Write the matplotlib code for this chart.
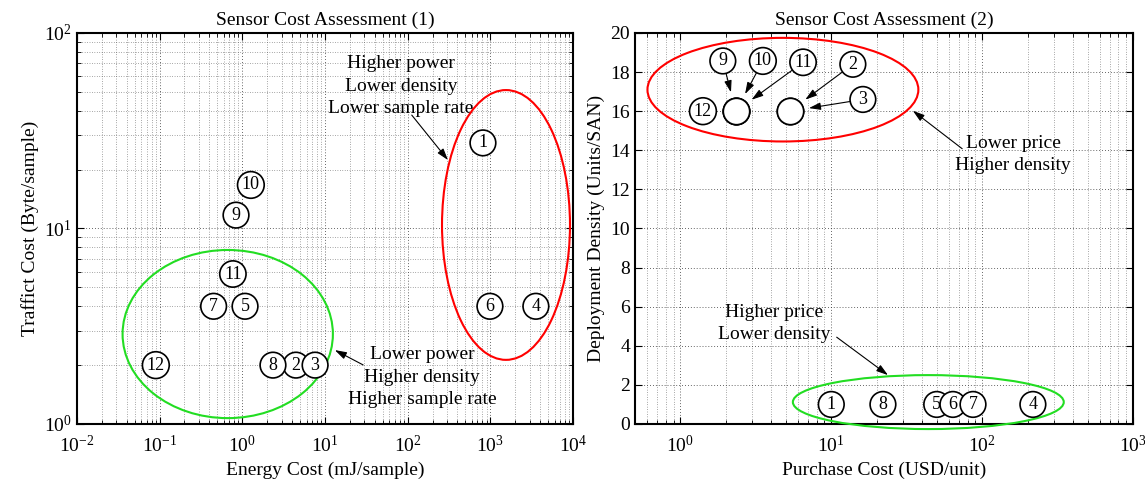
import matplotlib
matplotlib.use("Agg")
import matplotlib.pyplot as plt
from matplotlib.patches import Ellipse

plt.rcParams["font.family"] = ["Liberation Serif", "DejaVu Serif"]
plt.rcParams["mathtext.fontset"] = "stix"

# sensor ids
ids = [1, 2, 3, 4, 5, 6, 7, 8, 9, 10, 11, 12]

# panel 1: energy cost (mJ/sample) vs traffic cost (Byte/sample)
energy = [815, 4.46, 7.6, 3560, 1.08, 990, 0.45, 2.35, 0.84, 1.27, 0.77, 0.09]
traffic = [27.4, 2.0, 2.0, 4.0, 4.0, 4.0, 4.0, 2.0, 11.7, 16.7, 5.85, 2.0]

# panel 2: purchase cost (USD/unit) vs deployment density (units/SAN)
purchase = [10, 5.3, 5.3, 217, 50, 64, 87, 22, 2.33, 2.33, 2.33, 1.41]
density = [1, 16, 16, 1, 1, 1, 1, 1, 16, 16, 16, 16]

# labels moved off the crowded points on panel 2 (label position in data units)
label_pos2 = {9: (1.91, 18.57), 10: (3.52, 18.57), 11: (6.5, 18.5),
              2: (13.9, 18.4), 3: (16.2, 16.6)}

fs = 14
ls = 1.4
circ = dict(boxstyle="circle,pad=0.24", fc="white", ec="black", lw=1.2)
arrow = dict(arrowstyle="-|>,head_length=0.7,head_width=0.22", color="black",
             lw=0.8, shrinkA=0, shrinkB=0, mutation_scale=10)

fig = plt.figure(figsize=(11.45, 4.8), dpi=100)
ax1 = fig.add_axes([0.0672, 0.1167, 0.4332, 0.8146])
ax2 = fig.add_axes([0.5546, 0.1167, 0.4349, 0.8146])


def style(ax):
    ax.grid(True, which="major", linestyle=(0, (1, 2.5)), color="#333333", linewidth=0.6)
    ax.grid(True, which="minor", linestyle=(0, (1, 2.5)), color="#555555", linewidth=0.5)
    ax.tick_params(which="both", direction="in", top=True, right=True, labelsize=fs)
    ax.tick_params(which="major", length=5)
    ax.tick_params(which="minor", length=3)
    ax.tick_params(axis="x", pad=8)
    for s in ax.spines.values():
        s.set_linewidth(1.5)
    ax.set_axisbelow(True)


# ---- panel 1
ax1.set_xscale("log")
ax1.set_yscale("log")
ax1.set_xlim(1e-2, 1e4)
ax1.set_ylim(1, 100)
style(ax1)
for i, x, y in zip(ids, energy, traffic):
    ax1.text(x, y, str(i), ha="center", va="center", fontsize=13, bbox=circ, zorder=5)

ax1.add_patch(Ellipse((0.865, 0.509), 0.258, 0.69, transform=ax1.transAxes,
                      fill=False, ec="red", lw=1.5, zorder=4))
ax1.add_patch(Ellipse((0.304, 0.230), 0.424, 0.43, transform=ax1.transAxes,
                      fill=False, ec="#22dd22", lw=1.5, zorder=4))

ax1.text(0.653, 0.864, "Higher power\nLower density\nLower sample rate",
         transform=ax1.transAxes, ha="center", va="center", fontsize=fs,
         linespacing=ls)
ax1.annotate("", xy=(0.748, 0.675), xycoords="axes fraction",
             xytext=(0.675, 0.790), textcoords="axes fraction", arrowprops=arrow)

ax1.text(0.696, 0.120, "Lower power\nHigher density\nHigher sample rate",
         transform=ax1.transAxes, ha="center", va="center", fontsize=fs,
         linespacing=ls)
ax1.annotate("", xy=(0.520, 0.189), xycoords="axes fraction",
             xytext=(0.577, 0.151), textcoords="axes fraction", arrowprops=arrow)

ax1.set_title("Sensor Cost Assessment (1)", fontsize=fs, pad=6)
ax1.set_xlabel("Energy Cost (mJ/sample)", fontsize=fs)
ax1.set_ylabel("Traffict Cost (Byte/sample)", fontsize=fs)

# ---- panel 2
ax2.set_xscale("log")
ax2.set_xlim(0.5, 1000)
ax2.set_ylim(0, 20)
ax2.set_yticks(range(0, 21, 2))
style(ax2)
ax2.grid(False, which="minor", axis="y")

for i, x, y in zip(ids, purchase, density):
    if i in label_pos2:
        ax2.plot(x, y, "o", ms=19, mfc="white", mec="black", mew=1.2, zorder=5)
    else:
        ax2.text(x, y, str(i), ha="center", va="center", fontsize=13, bbox=circ, zorder=5)

for i, (lx, ly) in label_pos2.items():
    k = ids.index(i)
    ax2.annotate(str(i), xy=(purchase[k], density[k]), xytext=(lx, ly),
                 ha="center", va="center", fontsize=13, bbox=circ, zorder=6,
                 arrowprops=dict(arrow, shrinkB=14))

ax2.add_patch(Ellipse((0.297, 0.855), 0.544, 0.265, transform=ax2.transAxes,
                      fill=False, ec="red", lw=1.5, zorder=4))
ax2.add_patch(Ellipse((0.589, 0.056), 0.544, 0.138, transform=ax2.transAxes,
                      fill=False, ec="#22dd22", lw=1.5, zorder=4, clip_on=False))

ax2.text(0.759, 0.690, "Lower price\nHigher density", transform=ax2.transAxes,
         ha="center", va="center", fontsize=fs, linespacing=ls)
ax2.annotate("", xy=(0.558, 0.801), xycoords="axes fraction",
             xytext=(0.657, 0.704), textcoords="axes fraction", arrowprops=arrow)

ax2.text(0.279, 0.256, "Higher price\nLower density", transform=ax2.transAxes,
         ha="center", va="center", fontsize=fs, linespacing=ls)
ax2.annotate("", xy=(0.508, 0.125), xycoords="axes fraction",
             xytext=(0.405, 0.222), textcoords="axes fraction", arrowprops=arrow)

ax2.set_title("Sensor Cost Assessment (2)", fontsize=fs, pad=6)
ax2.set_xlabel("Purchase Cost (USD/unit)", fontsize=fs)
ax2.set_ylabel("Deployment Density (Units/SAN)", fontsize=fs)

fig.savefig("out.png", dpi=100)
